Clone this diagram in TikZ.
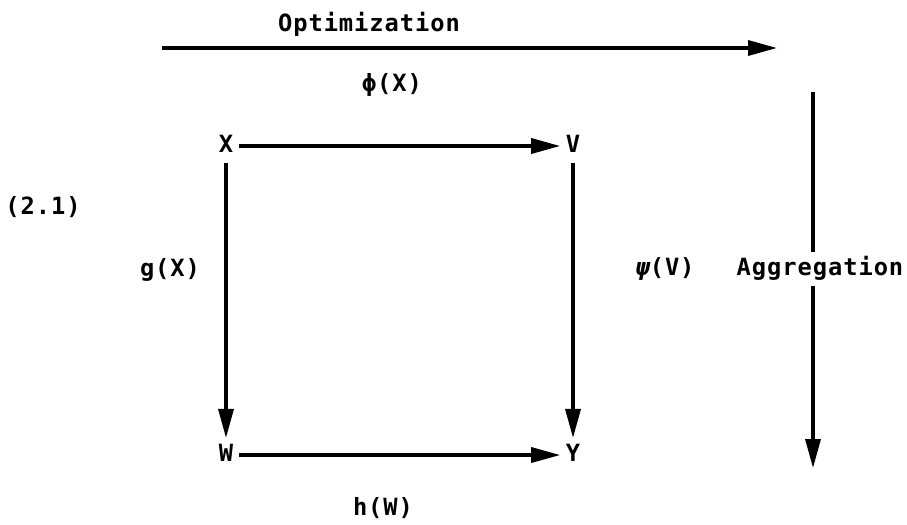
\documentclass[tikz,border=0pt]{standalone}
\usepackage{fontspec}
\setmonofont[LetterSpace=4]{DejaVu Sans Mono}
\usetikzlibrary{arrows.meta}

\begin{document}
\begin{tikzpicture}[
  lbl/.style={font=\ttfamily\bfseries\fontsize{13.5}{16}\selectfont, inner sep=3pt, text height=10pt, text depth=3pt},
  arr/.style={-{Triangle[length=0.58cm,width=0.3cm]}, line width=1.9pt}
]
\useasboundingbox (0,0) rectangle (18.14,-10.48);
% top arrow
\coordinate (optStart) at (3.24,-0.96);
\coordinate (optEnd) at (15.54,-0.96);
\node[lbl] (opt) at (7.38,-0.5) {Optimization};
\node[lbl] (phi) at (7.84,-1.7) {ϕ(X)};
\draw[arr] (optStart) -- (optEnd);
% square
\node[lbl] (x) at (4.52,-2.92) {X};
\node[lbl] (v) at (11.46,-2.92) {V};
\node[lbl] (w) at (4.52,-9.1) {W};
\node[lbl] (y) at (11.46,-9.1) {Y};
\draw[arr] (x) -- (v);
\draw[arr] (x) -- (w);
\draw[arr] (v) -- (y);
\draw[arr] (w) -- (y);
\node[lbl] (eq) at (0.86,-4.16) {(2.1)};
\node[lbl] (gx) at (3.4,-5.4) {g(X)};
\node[lbl] (psi) at (13.3,-5.38) {{\itshape ψ}(V)};
\node[lbl] (hw) at (7.66,-10.18) {h(W)};
% right arrow
\coordinate (aggTop) at (16.26,-1.84);
\coordinate (aggBot) at (16.26,-9.36);
\draw[arr] (aggTop) -- (aggBot);
\node[lbl, fill=white] (agg) at (16.4,-5.38) {Aggregation};
\end{tikzpicture}
\end{document}
